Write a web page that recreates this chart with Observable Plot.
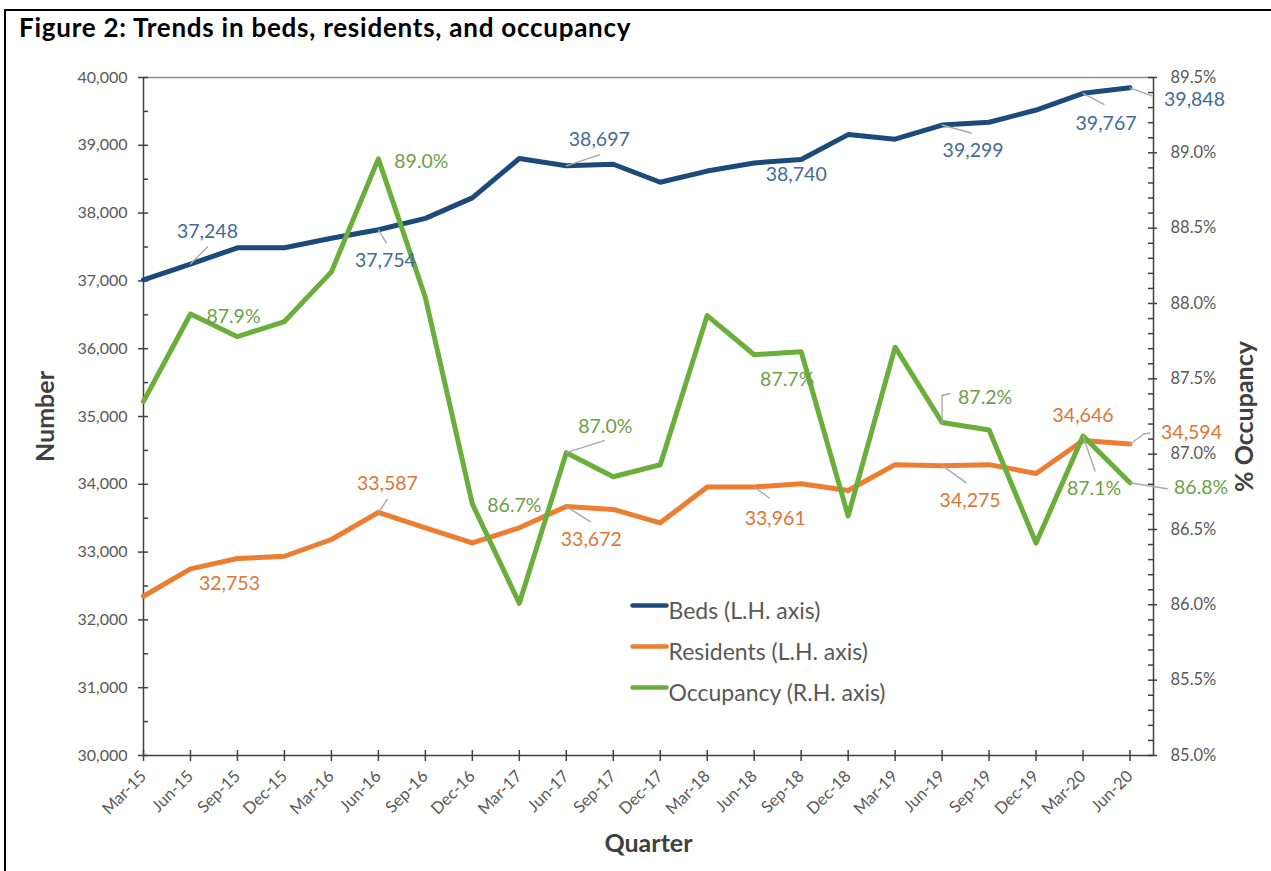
<!DOCTYPE html>
<html><head><meta charset="utf-8">
<script src="https://cdn.jsdelivr.net/npm/d3@7"></script>
<script src="https://cdn.jsdelivr.net/npm/@observablehq/plot@0.6"></script>
<style>
html,body{margin:0;padding:0;background:#fff;}
body{width:1271px;height:871px;overflow:hidden;position:relative;font-family:Lato,"DejaVu Sans",sans-serif;}
#frame{position:absolute;left:4px;top:9px;width:1300px;height:900px;border-left:2px solid #000;border-top:2px solid #000;}
#title{position:absolute;left:19px;top:12px;font-weight:bold;font-size:26px;line-height:30px;letter-spacing:0.75px;color:#000;white-space:nowrap;}
#chart{position:absolute;left:0;top:50px;}
</style></head>
<body>
<div id="frame"></div>
<div id="title">Figure 2: Trends in beds, residents, and occupancy</div>
<div id="chart"></div>
<script>
// ---------- data ----------
const quarters = ["Mar-15","Jun-15","Sep-15","Dec-15","Mar-16","Jun-16","Sep-16","Dec-16","Mar-17","Jun-17","Sep-17","Dec-17","Mar-18","Jun-18","Sep-18","Dec-18","Mar-19","Jun-19","Sep-19","Dec-19","Mar-20","Jun-20"];
const beds = [37016,37248,37488,37490,37630,37754,37922,38225,38805,38697,38720,38455,38620,38740,38790,39158,39090,39299,39340,39520,39767,39848];
const residents = [32349,32753,32905,32939,33186,33587,33358,33136,33358,33672,33629,33432,33959,33961,34007,33909,34290,34275,34290,34160,34646,34594];
const occupancy = [87.35,87.93,87.78,87.88,88.21,88.96,88.04,86.67,86.01,87.01,86.85,86.93,87.92,87.66,87.68,86.59,87.71,87.21,87.16,86.41,87.12,86.81];
const seriesNames = ["Beds (L.H. axis)","Residents (L.H. axis)","Occupancy (R.H. axis)"];
const leftDomain = [30000, 40000];
const rightDomain = [85, 89.5];
const leftTicks = [30000,31000,32000,33000,34000,35000,36000,37000,38000,39000,40000];
const leftMinorTicks = [30500,31500,32500,33500,34500,35500,36500,37500,38500,39500];
const rightTicks = [85.0,85.5,86.0,86.5,87.0,87.5,88.0,88.5,89.0,89.5];
const bedsLabelIdx = [1,5,9,13,17,20,21];
const residentsLabelIdx = [1,5,9,13,17,20,21];
const occupancyLabelIdx = [1,5,7,9,13,17,20,21];

// ---------- layout / style ----------
const W = 1271, H = 821;
const M = {top: 27, right: 118, bottom: 116, left: 143};
const innerW = W - M.left - M.right;
const innerH = H - M.top - M.bottom;
const colors = {beds: "#1c4a7a", residents: "#ed7d31", occ: "#6aae3c"};
const labelColors = {beds: "#416c99", residents: "#e07634", occ: "#6d9f48"};
const axisColor = "#404040", tickText = "#595959", leaderColor = "#a9a9a9";
const bedsLayout = [
  {dx:17, dy:-32, lead:[[17,-17]]},
  {dx:7, dy:31, lead:[[8,13]]},
  {dx:33, dy:-26, lead:[[33,-11]]},
  {dx:42, dy:12},
  {dx:31, dy:26, lead:[[29,8]]},
  {dx:23, dy:30, lead:[[21,11]]},
  {dx:34, dy:12, anchor:"start", lead:[[22,8]]}
];
const residentsLayout = [
  {dx:39, dy:15},
  {dx:9, dy:-29, lead:[[9,-13]]},
  {dx:25, dy:33, lead:[[24,15]]},
  {dx:21, dy:32, lead:[[15,11]]},
  {dx:28, dy:35, lead:[[24,17]]},
  {dx:0, dy:-25},
  {dx:31, dy:-11, anchor:"start", lead:[[14,-10],[6,-1]]}
];
const occLayout = [
  {dx:43, dy:3},
  {dx:43, dy:3},
  {dx:42, dy:2},
  {dx:39, dy:-26, lead:[[38,-12]]},
  {dx:33, dy:25},
  {dx:43, dy:-25, lead:[[0,-27],[8,-2]]},
  {dx:11, dy:53, lead:[[12,35]]},
  {dx:44, dy:5, anchor:"start", lead:[[37,6]]}
];
const legendPos = {lineDx: 489, textDx: 525, dys: [528, 569, 610], textShift: -3, len: 34};

// ---------- build ----------
const toLeft = d3.scaleLinear().domain(rightDomain).range(leftDomain);
const rows = quarters.map((q, i) => ({i, q, beds: beds[i], residents: residents[i], occ: occupancy[i], occY: toLeft(occupancy[i])}));
const xExtent = [0, quarters.length - 0.5];
const rightMinor = d3.range(85, 89.5001, 0.1).map(v => +v.toFixed(1)).filter(v => !rightTicks.includes(v));
const segment = {draw(context, l) { context.moveTo(0, 0); context.lineTo(0, -l); }};

function labelMarks(key, yKey, idxs, layouts, color, fmt) {
  const out = [];
  idxs.forEach((idx, k) => {
    const L = layouts[k];
    const d = [rows[idx]];
    let ox = 0, oy = 0;
    (L.lead || []).forEach(([sx, sy]) => {
      out.push(Plot.vector(d, {x: "i", y: yKey, dx: ox, dy: oy, length: Math.hypot(sx, sy),
        rotate: Math.atan2(sx, -sy) * 180 / Math.PI, anchor: "start", shape: segment,
        stroke: leaderColor, strokeWidth: 1.4}));
      ox += sx; oy += sy;
    });
    out.push(Plot.text(d, {x: "i", y: yKey, text: r => fmt(r[key]), dx: L.dx, dy: L.dy,
      textAnchor: L.anchor || "middle", fill: color, fontSize: 19.5}));
  });
  return out;
}

const fmtNum = d3.format(",");
const fmtPct = v => v.toFixed(1) + "%";

const legendMarks = [];
[colors.beds, colors.residents, colors.occ].forEach((c, k) => {
  legendMarks.push(Plot.vector([seriesNames[k]], {frameAnchor: "top-left", dx: legendPos.lineDx, dy: legendPos.dys[k],
    length: legendPos.len, rotate: 90, anchor: "start", shape: segment, stroke: c, strokeWidth: 4.5, strokeLinecap: "round"}));
  legendMarks.push(Plot.text([seriesNames[k]], {frameAnchor: "top-left", dx: legendPos.textDx, dy: legendPos.dys[k] + legendPos.textShift,
    textAnchor: "start", fill: tickText, fontSize: 23}));
});

const chart = Plot.plot({
  width: W, height: H,
  marginTop: M.top, marginRight: M.right, marginBottom: M.bottom, marginLeft: M.left,
  style: {fontFamily: "Lato, 'DejaVu Sans', sans-serif", background: "transparent", overflow: "visible"},
  x: {type: "linear", domain: xExtent},
  y: {type: "linear", domain: leftDomain},
  marks: [
    // axis lines
    Plot.ruleY([leftDomain[1]], {stroke: "#8c8c8c", strokeWidth: 1.5}),
    Plot.ruleX([xExtent[0]], {stroke: axisColor, strokeWidth: 1.5}),
    Plot.ruleX([xExtent[1]], {stroke: axisColor, strokeWidth: 1.5}),
    Plot.ruleY([leftDomain[0]], {stroke: axisColor, strokeWidth: 1.5}),
    // left ticks
    Plot.tickY(leftTicks, {y: d => d, insetLeft: -5, insetRight: innerW - 5, stroke: axisColor, strokeWidth: 1.5}),
    Plot.tickY(leftMinorTicks, {y: d => d, insetLeft: 0, insetRight: innerW - 5, stroke: axisColor, strokeWidth: 1.5}),
    Plot.axisY({anchor: "left", ticks: leftTicks, tickSize: 0, tickPadding: 16, tickFormat: fmtNum, fontSize: 16, fill: tickText, label: null}),
    // right ticks
    Plot.tickY(rightTicks.map(toLeft), {y: d => d, insetLeft: innerW - 5, insetRight: -4, stroke: axisColor, strokeWidth: 1.5}),
    Plot.tickY(rightMinor.map(toLeft), {y: d => d, insetLeft: innerW - 5, insetRight: 0, stroke: axisColor, strokeWidth: 1.5}),
    Plot.axisY({anchor: "right", ticks: rightTicks.map(toLeft), tickSize: 0, tickPadding: 17, tickFormat: v => fmtPct(toLeft.invert(v)), fontSize: 16.5, fill: tickText, label: null}),
    // x ticks
    Plot.tickX(rows, {x: "i", insetTop: innerH - 5, insetBottom: -6, stroke: axisColor, strokeWidth: 1.5}),
    Plot.axisX({ticks: rows.map(d => d.i), tickFormat: i => quarters[i], tickRotate: -45, tickSize: 0, tickPadding: 18, fontSize: 16.5, fill: tickText, label: null}),
    // axis titles
    Plot.text(["Number"], {frameAnchor: "left", textAnchor: "middle", dx: -98, rotate: -90, fontSize: 25, fontWeight: "bold", fill: axisColor}),
    Plot.text(["% Occupancy"], {frameAnchor: "right", textAnchor: "middle", dx: 91, rotate: -90, fontSize: 25, fontWeight: "bold", fill: axisColor}),
    Plot.text(["Quarter"], {frameAnchor: "bottom", textAnchor: "middle", dy: 96, fontSize: 25, fontWeight: "bold", fill: axisColor}),
    // series
    Plot.line(rows, {x: "i", y: "beds", stroke: colors.beds, strokeWidth: 5, strokeLinejoin: "round", strokeLinecap: "round"}),
    Plot.line(rows, {x: "i", y: "residents", stroke: colors.residents, strokeWidth: 5, strokeLinejoin: "round", strokeLinecap: "round"}),
    Plot.line(rows, {x: "i", y: "occY", stroke: colors.occ, strokeWidth: 5, strokeLinejoin: "round", strokeLinecap: "round"}),
    // data labels
    ...labelMarks("beds", "beds", bedsLabelIdx, bedsLayout, labelColors.beds, fmtNum),
    ...labelMarks("residents", "residents", residentsLabelIdx, residentsLayout, labelColors.residents, fmtNum),
    ...labelMarks("occ", "occY", occupancyLabelIdx, occLayout, labelColors.occ, fmtPct),
    // legend
    ...legendMarks
  ]
});
document.getElementById("chart").appendChild(chart);
</script>
</body></html>
